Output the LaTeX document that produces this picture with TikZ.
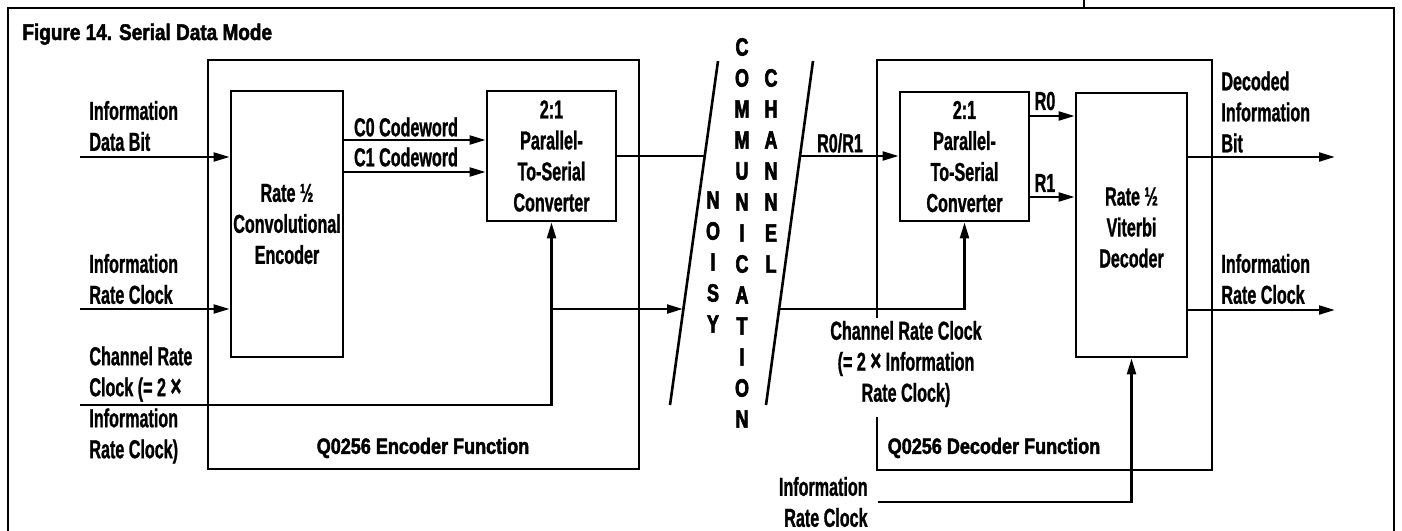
\documentclass[tikz,border=0pt]{standalone}
\usepackage{fontspec}
\setmainfont{Liberation Sans}
\newfontfamily\labfont{Liberation Sans}[FakeStretch=0.62, FakeBold=1]
\newfontfamily\titfont{Liberation Sans}[FakeStretch=0.82, FakeBold=2]
\newfontfamily\bigtitfont{Liberation Sans}[FakeStretch=0.84, FakeBold=2]
\newfontfamily\chfont{Liberation Sans}[FakeStretch=0.72, FakeBold=2.5]
\usetikzlibrary{arrows.meta}
\newcommand\labsty{\labfont\bfseries\fontsize{13}{15.5}\selectfont}
\newcommand\chansty{\chfont\bfseries\fontsize{12.5}{15.5}\selectfont}
\newcommand\titsty{\titfont\bfseries\fontsize{11}{13}\selectfont}
\newcommand\figsty{\bigtitfont\bfseries\fontsize{11.3}{13}\selectfont}
\newcommand\tms{{\fontsize{15}{15.5}\selectfont ×}}
\tikzset{
  ln/.style={line width=1.3pt},
  frame/.style={line width=0.7pt},
  arr/.style={ln, -{Triangle[length=8pt,width=4.4pt]}},
  blk/.style={draw, line width=1.3pt, inner sep=0pt, align=center, font=\labsty},
  outer/.style={draw, line width=1.3pt, inner sep=0pt},
  lab/.style={font=\labsty, inner sep=0pt},
  chl/.style={font=\chansty, inner sep=0pt},
  ttl/.style={font=\titsty, inner sep=0pt},
  figttl/.style={font=\figsty, inner sep=0pt},
}
\begin{document}
\begin{tikzpicture}[x=0.5pt,y=-0.5pt]
\useasboundingbox (0,0) rectangle (1402,530);
% outer frame
\draw[frame] (8,531) -- (8,8) -- (1394,8) -- (1394,531);
\draw[frame] (1084,0) -- (1084,8);
\node[figttl, anchor=base west] (title) at (22,40) {Figure 14. Serial Data Mode};

% function boxes
\node[outer, minimum width=215.5pt, minimum height=204.5pt] (encf) at (423.5,264.5) {};
\draw[ln] (877,318) -- (877,60) -- (1212,60) -- (1212,470) -- (877,470) -- (877,417);
\node[ttl] (encfl) at (423,448) {Q0256 Encoder Function};
\node[ttl] (decfl) at (994,448) {Q0256 Decoder Function};

% blocks
\node[blk, minimum width=56pt, minimum height=133pt] (conv) at (287,224) {Rate ½\\Convolutional\\Encoder};
\node[blk, minimum width=64.5pt, minimum height=65pt] (encps) at (551.5,156) {2:1\\Parallel-\\To-Serial\\Converter};
\node[blk, minimum width=64.5pt, minimum height=64.5pt] (decps) at (964.5,156.5) {2:1\\Parallel-\\To-Serial\\Converter};
\node[blk, minimum width=55.5pt, minimum height=132pt] (vit) at (1131.5,225) {\\[-4pt]Rate ½\\Viterbi\\Decoder};

% channel
\coordinate (s1a) at (718,61);
\coordinate (s1b) at (670,405);
\coordinate (s2a) at (813,61);
\coordinate (s2b) at (766,405);
\draw[ln] (s1a) -- (s1b);
\draw[ln] (s2a) -- (s2b);
\foreach \l [count=\i from 0] in {N,O,I,S,Y}
  \node[chl] (cn\i) at (713,200+31*\i) {\l};
\foreach \l [count=\i from 0] in {C,O,M,M,U,N,I,C,A,T,I,O,N}
  \node[chl] (cm\i) at (742,47+31*\i) {\l};
\foreach \l [count=\i from 0] in {C,H,A,N,N,E,L}
  \node[chl] (ch\i) at (771,78+31*\i) {\l};

% coordinates
\coordinate (idb) at (80,157);
\coordinate (irc) at (80,309);
\coordinate (crc) at (80,405);
\coordinate (c1) at (705,156);
\coordinate (c2) at (683,309);
\coordinate (c3) at (800,156);
\coordinate (c4) at (779,309);
\coordinate (dib) at (1335,157);
\coordinate (orc) at (1335,310);
\coordinate (brc) at (878,502);

% encoder connectors
\draw[arr] (idb) -- (conv.west |- idb);
\draw[arr] (irc) -- (conv.west |- irc);
\draw[arr] (crc) -| (encps.south);
\draw[arr] (encps.south |- irc) -- (c2);
\draw[arr] (conv.east |- 0,140) -- (encps.west |- 0,140);
\draw[arr] (conv.east |- 0,172) -- (encps.west |- 0,172);
\draw[ln] (encps.east) -- (c1);

% decoder connectors
\draw[arr] (c3) -- (decps.west |- c3);
\draw[arr] (c4) -| (decps.south);
\draw[arr] (decps.east |- 0,116) -- (vit.west |- 0,116);
\draw[arr] (decps.east |- 0,197) -- (vit.west |- 0,197);
\draw[arr] (vit.east |- dib) -- (dib);
\draw[arr] (vit.east |- orc) -- (orc);
\draw[arr] (brc) -| (vit.south);

% labels
\node[lab, align=left, anchor=west] (l1) at (89,126) {Information\\Data Bit};
\node[lab, align=left, anchor=west] (l2) at (89,279) {Information\\Rate Clock};
\node[lab, align=left, anchor=west] (l3) at (89,405) {Channel Rate\\Clock (= 2 \tms\\Information\\Rate Clock)};
\node[lab] (l4) at (406,127) {C0 Codeword};
\node[lab] (l5) at (406,157) {C1 Codeword};
\node[lab] (l6) at (840,143) {R0/R1};
\node[lab] (l7) at (1045,101) {R0};
\node[lab] (l8) at (1045,183) {R1};
\node[lab, align=left, anchor=west] (l9) at (1221,112) {Decoded\\Information\\Bit};
\node[lab, align=left, anchor=west] (l10) at (1221,279) {Information\\Rate Clock};
\node[lab, align=center] (l11) at (906,364) {Channel Rate Clock\\(= 2 \tms{} Information\\Rate Clock)};
\node[lab, align=right, anchor=east] (l12) at (868,502) {Information\\Rate Clock};
\end{tikzpicture}
\end{document}
